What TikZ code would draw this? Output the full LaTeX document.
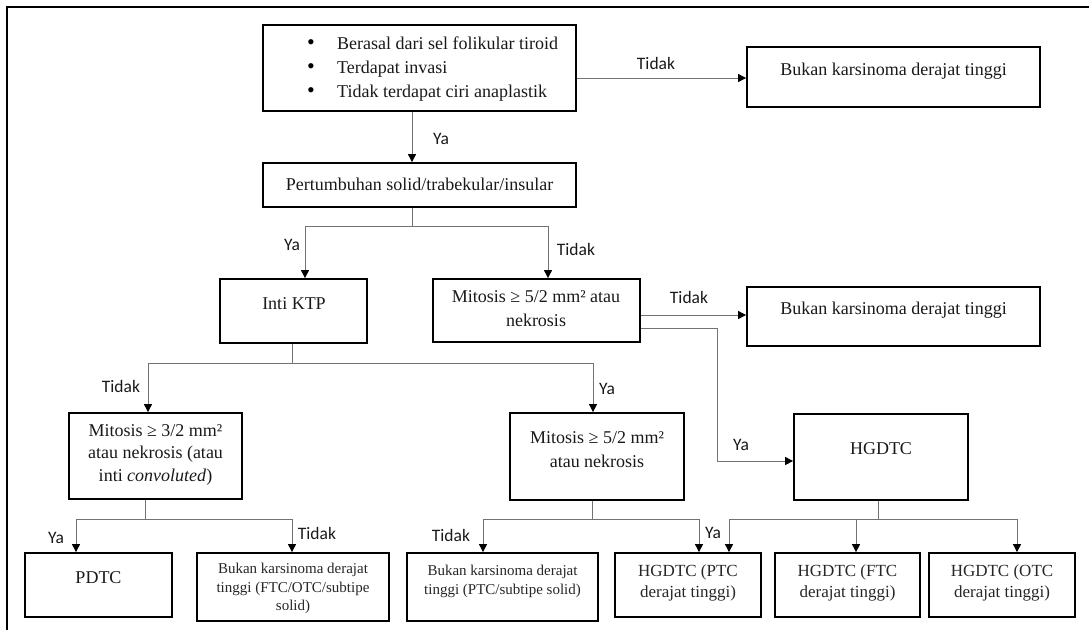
\documentclass[tikz,border=0pt]{standalone}
\usepackage{fontspec}
\setmainfont{Liberation Serif}
\newfontfamily\labfont{Carlito}
\usetikzlibrary{arrows.meta}
\tikzset{
  box/.style={draw=black, line width=1.8pt, inner sep=0pt},
  conn/.style={draw=black!55, line width=0.9pt},
  arr/.style={conn, -{Triangle[length=8pt,width=8pt,color=black]}},
  txt/.style={font=\fontsize{18}{24}\selectfont, align=center, inner sep=0pt, text=black!90},
  txtg/.style={font=\fontsize{18}{22.5}\selectfont, align=center, inner sep=0pt, text=black!90},
  mid/.style={font=\fontsize{17}{21}\selectfont, align=center, inner sep=0pt, text=black!85},
  small/.style={font=\fontsize{15}{18.5}\selectfont, align=center, inner sep=0pt, text=black!85},
  lbl/.style={font=\labfont\fontsize{17.5}{20}\selectfont, inner sep=0pt, text=black!90},
  bul/.style={font=\fontsize{22}{24}\selectfont, align=center, inner sep=0pt, text=black},
}
\begin{document}
\begin{tikzpicture}[x=1pt,y=-1pt]
\useasboundingbox (0,0) rectangle (1089,630);
% outer frame (cut off at right and bottom)
\draw[line width=1.3pt] (7,630) -- (7,7) -- (1089,7);

% boxes
\node[box, minimum width=313pt, minimum height=86pt] (A) at (419.5,68) {};
\node[box, minimum width=293pt, minimum height=60pt] (B) at (893.5,77) {};
\node[box, minimum width=313pt, minimum height=44pt] (C) at (419.5,185) {};
\node[box, minimum width=147pt, minimum height=64pt] (D) at (293.5,311) {};
\node[box, minimum width=207pt, minimum height=63pt] (E) at (536.5,310.5) {};
\node[box, minimum width=293pt, minimum height=59pt] (F) at (893.5,316.5) {};
\node[box, minimum width=173pt, minimum height=86pt] (G) at (155.5,456) {};
\node[box, minimum width=174pt, minimum height=87pt] (H) at (597,456.5) {};
\node[box, minimum width=174pt, minimum height=86pt] (I) at (881,457) {};
\node[box, minimum width=147pt, minimum height=64pt] (J) at (98.5,585) {};
\node[box, minimum width=192pt, minimum height=68pt] (K) at (293,587) {};
\node[box, minimum width=191pt, minimum height=68pt] (L) at (502.5,587) {};
\node[box, minimum width=146pt, minimum height=64pt] (M) at (688,585) {};
\node[box, minimum width=145pt, minimum height=64pt] (N) at (847.5,585) {};
\node[box, minimum width=146pt, minimum height=64pt] (O) at (1002,585) {};

% texts
\node[bul] (tAb) at (311,69) {•\\•\\•};
\node[txt, align=left, anchor=west] (tA) at (337,69) {Berasal dari sel folikular tiroid\\Terdapat invasi\\Tidak terdapat ciri anaplastik};
\node[txt] (tB) at (893.5,71) {Bukan karsinoma derajat tinggi};
\node[txt] (tC) at (419.5,184) {Pertumbuhan solid/trabekular/insular};
\node[txt] (tD) at (294,304) {Inti KTP};
\node[txt] (tE) at (536,309) {Mitosis ≥ 5/2 mm² atau\\nekrosis};
\node[txt] (tF) at (893.5,310) {Bukan karsinoma derajat tinggi};
\node[txtg] (tG) at (155.5,454.5) {Mitosis ≥ 3/2 mm²\\atau nekrosis  (atau\\inti \textit{convoluted})};
\node[txt] (tH) at (597,450) {Mitosis ≥ 5/2 mm²\\atau nekrosis};
\node[txt] (tI) at (881,449) {HGDTC};
\node[txt] (tJ) at (98.5,578) {PDTC};
\node[small] (tK) at (293,588.5) {Bukan karsinoma derajat\\tinggi (FTC/OTC/subtipe\\solid)};
\node[small] (tL) at (502.5,581.5) {Bukan karsinoma derajat\\tinggi (PTC/subtipe solid)};
\node[mid] (tM) at (688,582.5) {HGDTC (PTC\\derajat tinggi)};
\node[mid] (tN) at (847.5,582.5) {HGDTC (FTC\\derajat tinggi)};
\node[mid] (tO) at (1002,582.5) {HGDTC (OTC\\derajat tinggi)};

% junction coordinates
\coordinate (a1) at (412,0);
\coordinate (a2) at (0,78);
\coordinate (c1) at (412,226);
\coordinate (c2) at (305,226);
\coordinate (c3) at (548,226);
\coordinate (e1) at (0,315);
\coordinate (e2) at (717,328);
\coordinate (e3) at (717,461);
\coordinate (d1) at (292,363);
\coordinate (d2) at (148,363);
\coordinate (d3) at (593,363);
\coordinate (g1) at (145,519);
\coordinate (g2) at (76,519);
\coordinate (g3) at (292,519);
\coordinate (h1) at (592,519);
\coordinate (h2) at (483,519);
\coordinate (h3) at (699,519);
\coordinate (i1) at (878,519);
\coordinate (i2) at (729,519);
\coordinate (i3) at (856,519);
\coordinate (i4) at (1017,519);

% connectors
\draw[arr] (A.south -| a1) -- (C.north -| a1);
\draw[arr] (A.east |- a2) -- (B.west |- a2);
\draw[conn] (C.south -| c1) -- (c1);
\draw[arr] (c1) -| (D.north -| c2);
\draw[arr] (c1) -| (E.north -| c3);
\draw[arr] (E.east |- e1) -- (F.west |- e1);
\draw[arr] (E.east |- e2) -- (e2) -- (e3) -- (I.west |- e3);
\draw[conn] (D.south -| d1) -- (d1);
\draw[arr] (d1) -| (G.north -| d2);
\draw[arr] (d1) -| (H.north -| d3);
\draw[conn] (G.south -| g1) -- (g1);
\draw[arr] (g1) -| (J.north -| g2);
\draw[arr] (g1) -| (K.north -| g3);
\draw[conn] (H.south -| h1) -- (h1);
\draw[arr] (h1) -| (L.north -| h2);
\draw[arr] (h1) -| (M.north -| h3);
\draw[conn] (I.south -| i1) -- (i1);
\draw[arr] (i1) -| (M.north -| i2);
\draw[arr] (i1) -| (N.north -| i3);
\draw[arr] (i1) -| (O.north -| i4);

% labels
\node[lbl] (l1) at (656,63) {Tidak};
\node[lbl] (l2) at (441,139) {Ya};
\node[lbl] (l3) at (292,245) {Ya};
\node[lbl] (l4) at (576,249) {Tidak};
\node[lbl] (l5) at (689,297) {Tidak};
\node[lbl] (l6) at (741,445) {Ya};
\node[lbl] (l7) at (121,386) {Tidak};
\node[lbl] (l8) at (607,389) {Ya};
\node[lbl] (l9) at (56,538) {Ya};
\node[lbl] (l10) at (317,533) {Tidak};
\node[lbl] (l11) at (451,535) {Tidak};
\node[lbl] (l12) at (713,533) {Ya};
\end{tikzpicture}
\end{document}
